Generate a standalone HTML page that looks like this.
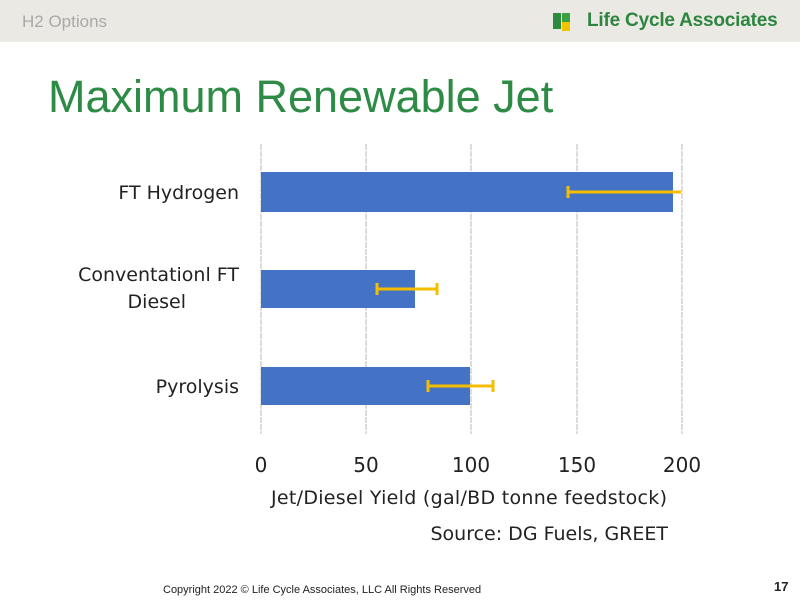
<!DOCTYPE html>
<html><head><style>
body{margin:0;width:800px;height:600px;background:#fff;position:relative;overflow:hidden;font-family:"Liberation Sans",sans-serif}
.t{position:absolute;white-space:nowrap}
</style></head><body>
<div style="position:absolute;left:0;top:0;width:800px;height:42px;background:#ebe9e4"></div>
<div class="t" style="left:22px;top:12px;font-size:17px;color:#a9a9a9">H2 Options</div>
<svg style="position:absolute;left:553px;top:11px" width="32" height="22"><rect x="0" y="2" width="8" height="16" fill="#2e8b3e"/><rect x="9" y="2" width="8" height="9" fill="#3aa040"/><rect x="9" y="11" width="8" height="9" fill="#f2c400"/></svg>
<div class="t" style="left:587px;top:10px;font-size:19px;font-weight:bold;color:#2e8540;letter-spacing:-0.2px">Life Cycle Associates</div>
<div class="t" style="left:48px;top:71px;font-size:45px;color:#2e8b45">Maximum Renewable Jet</div>
<svg style="position:absolute;left:0;top:0" width="800" height="600">
<g stroke="#dcdcdc" stroke-width="2" stroke-dasharray="6,1">
<line x1="261" y1="144" x2="261" y2="434"/><line x1="366" y1="144" x2="366" y2="434"/><line x1="471" y1="144" x2="471" y2="434"/><line x1="577" y1="144" x2="577" y2="434"/><line x1="682" y1="144" x2="682" y2="434"/>
</g>
<g fill="#4472c4">
<rect x="261" y="172" width="412" height="40"/>
<rect x="261" y="270" width="154" height="38"/>
<rect x="261" y="367" width="209" height="38"/>
</g>
<g stroke="#f5bd00" stroke-width="3">
<line x1="568" y1="192" x2="681" y2="192"/><line x1="568" y1="186" x2="568" y2="198"/>
<line x1="377" y1="289" x2="437" y2="289"/><line x1="377" y1="283" x2="377" y2="295"/><line x1="437" y1="283" x2="437" y2="295"/>
<line x1="428" y1="386" x2="493" y2="386"/><line x1="428" y1="380" x2="428" y2="392"/><line x1="493" y1="380" x2="493" y2="392"/>
</g>
<g font-family="DejaVu Sans,sans-serif" font-size="19" fill="#222">
<text x="239" y="199" text-anchor="end">FT Hydrogen</text>
<text x="239" y="281" text-anchor="end">Conventationl FT</text>
<text x="186" y="308" text-anchor="end">Diesel</text>
<text x="239" y="393" text-anchor="end">Pyrolysis</text>
<g text-anchor="middle" font-size="20"><text x="261" y="472">0</text><text x="366" y="472">50</text><text x="471" y="472">100</text><text x="577" y="472">150</text><text x="682" y="472">200</text></g>
<text x="469" y="504" text-anchor="middle" textLength="396">Jet/Diesel Yield (gal/BD tonne feedstock)</text>
<text x="668" y="540" text-anchor="end">Source: DG Fuels, GREET</text>
</g>
</svg>
<div class="t" style="left:163px;top:584px;font-size:11px;color:#222">Copyright 2022 © Life Cycle Associates, LLC All Rights Reserved</div>
<div class="t" style="left:774px;top:579px;font-size:13px;font-weight:bold;color:#222">17</div>
</body></html>
